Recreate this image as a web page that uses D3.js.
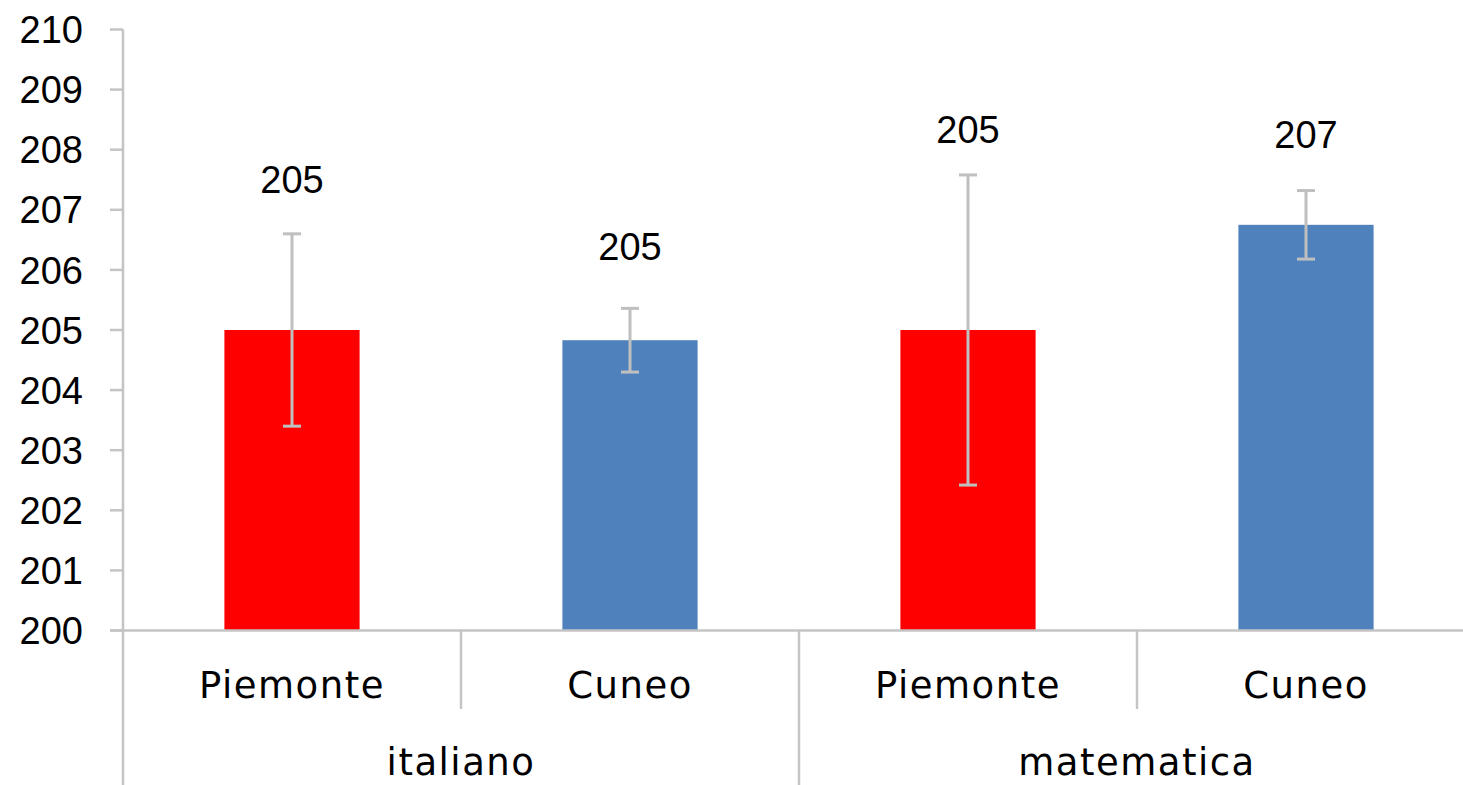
<!DOCTYPE html>
<html><head><meta charset="utf-8">
<script src="https://cdn.jsdelivr.net/npm/d3@7"></script>
<style>body{margin:0;background:#fff;overflow:hidden}</style>
</head><body>
<svg id="c" width="1463" height="785"></svg>
<script>
const groups = ["italiano", "matematica"];
const subcategories = ["Piemonte", "Cuneo", "Piemonte", "Cuneo"];
const groupOf = [0, 0, 1, 1];
const values = [205.0, 204.83, 205.0, 206.75];
const errors = [1.6, 0.53, 2.58, 0.57];
const labels = ["205", "205", "205", "207"];
const labelAnchor = [207.28, 206.16, 208.11, 208.03];
const yTicks = [200, 201, 202, 203, 204, 205, 206, 207, 208, 209, 210];
const colors = ["#FF0000", "#4F81BD", "#FF0000", "#4F81BD"];

const svg = d3.select("#c");
const axisColor = "#C4C4C4";
const numFont = "'Liberation Sans', Arial, sans-serif";
const catFont = "'DejaVu Sans', sans-serif";

const x0 = 123, band = 338;
const x = d3.scaleBand().domain(d3.range(subcategories.length)).range([x0, x0 + band * subcategories.length]).padding(0);
const y = d3.scaleLinear().domain([200, 210]).range([630.5, 29.5]);
const barW = x.bandwidth() * 0.4;

// y axis
svg.append("line").attr("x1", x0).attr("x2", x0).attr("y1", y(210)).attr("y2", 785)
  .attr("stroke", axisColor).attr("stroke-width", 2.5);
svg.selectAll(".yt").data(yTicks).enter().append("line")
  .attr("x1", 110).attr("x2", x0).attr("y1", d => y(d)).attr("y2", d => y(d))
  .attr("stroke", axisColor).attr("stroke-width", 2.5);
svg.selectAll(".yl").data(yTicks).enter().append("text")
  .attr("x", 83).attr("y", d => y(d)).attr("dy", "0.36em")
  .attr("text-anchor", "end").attr("font-family", numFont).attr("font-size", 38)
  .attr("fill", "#000").text(d => d);

// bars
svg.selectAll(".bar").data(values).enter().append("rect")
  .attr("x", (d, i) => x(i) + (x.bandwidth() - barW) / 2)
  .attr("y", d => y(d)).attr("width", barW).attr("height", d => y(200) - y(d))
  .attr("fill", (d, i) => colors[i]);

// x axis line
svg.append("line").attr("x1", 110).attr("x2", 1463).attr("y1", y(200)).attr("y2", y(200))
  .attr("stroke", axisColor).attr("stroke-width", 2.5);

// separators
d3.range(1, subcategories.length + 1).forEach(i => {
  const xx = x0 + band * i;
  const isGroup = i % 2 === 0;
  svg.append("line").attr("x1", xx).attr("x2", xx).attr("y1", y(200))
    .attr("y2", isGroup ? 785 : 709).attr("stroke", axisColor).attr("stroke-width", 2.5);
});

// error bars
const eg = svg.selectAll(".err").data(values).enter().append("g")
  .attr("stroke", "#BFBFBF").attr("stroke-width", 3);
eg.append("line").attr("x1", (d, i) => x(i) + x.bandwidth() / 2).attr("x2", (d, i) => x(i) + x.bandwidth() / 2)
  .attr("y1", (d, i) => y(d + errors[i])).attr("y2", (d, i) => y(d - errors[i]));
eg.append("line").attr("x1", (d, i) => x(i) + x.bandwidth() / 2 - 9).attr("x2", (d, i) => x(i) + x.bandwidth() / 2 + 9)
  .attr("y1", (d, i) => y(d + errors[i])).attr("y2", (d, i) => y(d + errors[i]));
eg.append("line").attr("x1", (d, i) => x(i) + x.bandwidth() / 2 - 9).attr("x2", (d, i) => x(i) + x.bandwidth() / 2 + 9)
  .attr("y1", (d, i) => y(d - errors[i])).attr("y2", (d, i) => y(d - errors[i]));

// data labels
svg.selectAll(".dl").data(labels).enter().append("text")
  .attr("x", (d, i) => x(i) + x.bandwidth() / 2).attr("y", (d, i) => y(labelAnchor[i]))
  .attr("text-anchor", "middle").attr("font-family", numFont).attr("font-size", 38)
  .attr("fill", "#000").text(d => d);

// subcategory labels
svg.selectAll(".sl").data(subcategories).enter().append("text")
  .attr("x", (d, i) => x(i) + x.bandwidth() / 2).attr("y", 698)
  .attr("text-anchor", "middle").attr("font-family", catFont).attr("font-size", 37)
  .attr("letter-spacing", 1.5).attr("fill", "#000").text(d => d);

// group labels
svg.selectAll(".gl").data(groups).enter().append("text")
  .attr("x", (d, g) => {
    const idx = d3.range(subcategories.length).filter(i => groupOf[i] === g);
    return (x(idx[0]) + x(idx[idx.length - 1]) + x.bandwidth()) / 2;
  }).attr("y", 775)
  .attr("text-anchor", "middle").attr("font-family", catFont).attr("font-size", 37)
  .attr("letter-spacing", 1.5).attr("fill", "#000").text(d => d);
</script>
</body></html>
